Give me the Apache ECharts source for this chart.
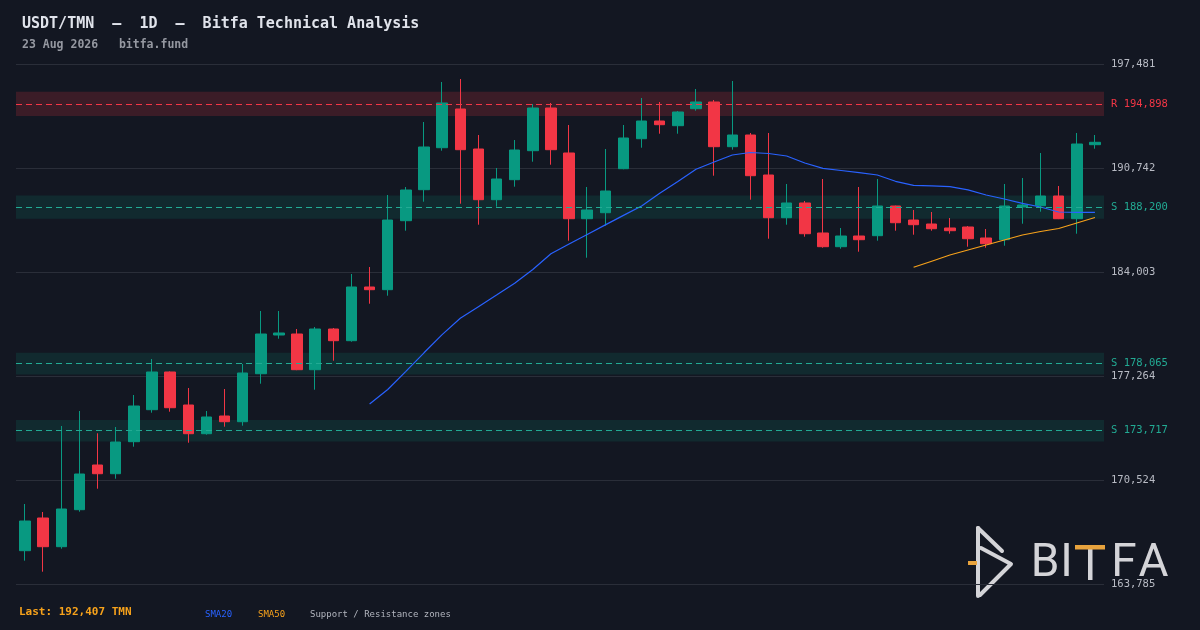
<!DOCTYPE html>
<html>
<head>
<meta charset="utf-8">
<script src="https://cdn.jsdelivr.net/npm/echarts@6/dist/echarts.min.js"></script>
<style>
html,body{margin:0;padding:0;background:#131722;}
#chart{width:1200px;height:630px;}
</style>
</head>
<body>
<div id="chart"></div>
<script>
const categories = [
 '2026-06-25','2026-06-26','2026-06-27','2026-06-28','2026-06-29','2026-06-30',
 '2026-07-01','2026-07-02','2026-07-03','2026-07-04','2026-07-05','2026-07-06','2026-07-07','2026-07-08','2026-07-09','2026-07-10',
 '2026-07-11','2026-07-12','2026-07-13','2026-07-14','2026-07-15','2026-07-16','2026-07-17','2026-07-18','2026-07-19','2026-07-20',
 '2026-07-21','2026-07-22','2026-07-23','2026-07-24','2026-07-25','2026-07-26','2026-07-27','2026-07-28','2026-07-29','2026-07-30','2026-07-31',
 '2026-08-01','2026-08-02','2026-08-03','2026-08-04','2026-08-05','2026-08-06','2026-08-07','2026-08-08','2026-08-09','2026-08-10',
 '2026-08-11','2026-08-12','2026-08-13','2026-08-14','2026-08-15','2026-08-16','2026-08-17','2026-08-18','2026-08-19','2026-08-20',
 '2026-08-21','2026-08-22','2026-08-23'
];
const opens = [165943,168062,166202,168600,171496,170932,173006,175080,177523,175384,
 173524,174671,174302,177412,179920,179985,177672,180309,179551,183031,
 182856,187327,189336,192057,194565,191973,188688,189984,191863,194630,
 191714,187456,187845,190696,192640,193787,193483,194584,195019,192122,
 192880,190288,187521,188474,186530,185642,186335,186355,188279,187372,
 187113,186854,186919,186206,186096,188215,188299,188927,187456,192252];
const closes = [167867,166202,168645,170913,170932,172987,175319,177523,175209,173524,
 174607,174302,177458,179985,180050,177672,180309,179551,183031,182856,
 187372,189316,192103,194954,191928,188688,190029,191908,194630,191928,
 187456,188020,189251,192686,193787,193548,194371,195019,192122,192880,
 190243,187521,188474,186484,185642,186335,186096,188279,187197,187068,
 186808,186679,186160,185836,188279,188344,188927,187456,192297,192407];
const lows = [165295,164582,166072,168470,169960,170608,172682,174885,174950,172941,
 173460,173978,174043,176764,179680,177640,176376,178255,179486,181948,
 182467,186679,188558,191863,188428,187068,188234,189530,191150,190956,
 186031,184929,187003,190660,192057,192964,192964,194455,190243,191928,
 188688,186160,187068,186290,185577,185512,185318,186031,186679,186420,
 186679,186484,185642,185577,185707,187132,187910,187430,186484,191992];
const highs = [168969,168451,174023,174995,173550,173959,176032,178365,177560,176486,
 174995,176421,178041,181475,181475,180309,180439,180374,183873,184327,
 188992,189511,193723,196315,196509,192880,190742,192556,194889,194954,
 193528,189511,191973,193528,195278,195019,194435,195861,195148,196379,
 193010,193010,189705,188603,190029,186854,189511,190029,188300,188020,
 187891,187502,186983,186789,189705,190094,191714,189575,193010,192880];
const sma20 = [null,null,null,null,null,null,null,null,null,null,
 null,null,null,null,null,null,null,null,null,175449,
 176389,177568,178767,179946,181002,181754,182506,183270,184165,185182,
 185811,186433,187055,187670,188279,189102,189867,190658,191131,191584,
 191746,191681,191519,191066,190722,190580,190437,190288,189880,189621,
 189588,189530,189329,188992,188733,188454,188215,187891,187871,187871];
const sma50 = [null,null,null,null,null,null,null,null,null,null,
 null,null,null,null,null,null,null,null,null,null,
 null,null,null,null,null,null,null,null,null,null,
 null,null,null,null,null,null,null,null,null,null,
 null,null,null,null,null,null,null,null,null,184307,
 184702,185104,185428,185752,186076,186400,186627,186821,187178,187534];
const zoneKinds = ['R','S','S','S'];
const zoneLevels = [194898,188200,178065,173717];
const zoneLow = [194118,187447,177353,173022];
const zoneHigh = [195678,188953,178777,174412];
const tickLabels = ['163,785','170,524','177,264','184,003','190,742','197,481'];
const axisMin = 163785, axisMax = 197481;
const lastPrice = '192,407';

const UP = '#089981', DOWN = '#F23645', ZONE_S = '#22ab94';
const MONO = '"DejaVu Sans Mono", monospace';
const interval = (axisMax - axisMin) / 5;

const candleData = opens.map((o, i) => [o, closes[i], lows[i], highs[i]]);

const markAreaData = zoneLevels.map((lv, i) => [
  { yAxis: zoneLow[i], itemStyle: { color: zoneKinds[i] === 'R' ? 'rgba(242,54,69,0.18)' : 'rgba(8,153,129,0.15)' } },
  { yAxis: zoneHigh[i] }
]);
const markLineData = zoneLevels.map((lv, i) => ({
  yAxis: lv,
  lineStyle: { color: zoneKinds[i] === 'R' ? DOWN : ZONE_S, type: [6, 4], width: 1 },
  label: {
    show: true, position: 'end', distance: 7,
    formatter: zoneKinds[i] + ' ' + lv.toLocaleString('en-US'),
    color: zoneKinds[i] === 'R' ? DOWN : ZONE_S,
    fontFamily: MONO, fontSize: 10.5
  }
}));

const LOGO = '#d4d4d8', LOGO_ACC = '#E8A33D';

const chart = echarts.init(document.getElementById('chart'), null, { renderer: 'canvas' });
chart.setOption({
  backgroundColor: '#131722',
  animation: false,
  grid: { left: 16, right: 96, top: 64, bottom: 46 },
  xAxis: {
    type: 'category', data: categories, boundaryGap: true,
    axisLine: { show: false }, axisTick: { show: false }, axisLabel: { show: false },
    splitLine: { show: false }
  },
  yAxis: {
    type: 'value', position: 'right', min: axisMin, max: axisMax, interval: interval,
    axisLine: { show: false }, axisTick: { show: false },
    axisLabel: {
      color: '#b8bbc4', fontFamily: MONO, fontSize: 10.5, margin: 7,
      formatter: v => tickLabels[Math.round((v - axisMin) / interval)] || ''
    },
    splitLine: { lineStyle: { color: '#2a2e39', width: 1 } }
  },
  series: [
    {
      type: 'candlestick', data: candleData, barWidth: 11,
      itemStyle: { color: UP, color0: DOWN, borderColor: UP, borderColor0: DOWN, borderWidth: 1 },
      markArea: { silent: true, data: markAreaData },
      markLine: { silent: true, symbol: 'none', data: markLineData }
    },
    {
      type: 'line', data: sma20, showSymbol: false, connectNulls: false,
      lineStyle: { color: '#2962FF', width: 1.2 }, z: 3
    },
    {
      type: 'line', data: sma50, showSymbol: false, connectNulls: false,
      lineStyle: { color: '#F7A21B', width: 1.2 }, z: 3
    }
  ],
  graphic: [
    { type: 'text', left: 22, top: 17, style: { text: 'USDT/TMN  –  1D  –  Bitfa Technical Analysis', fill: '#e0e3eb', font: 'bold 15px ' + MONO } },
    { type: 'text', left: 22, top: 39, style: { text: '23 Aug 2026   bitfa.fund', fill: '#9598a1', font: 'bold 11.5px ' + MONO } },
    { type: 'text', left: 19, top: 607, style: { text: 'Last: ' + lastPrice + ' TMN', fill: '#F7A21B', font: 'bold 11px ' + MONO } },
    { type: 'text', left: 205, top: 610, style: { text: 'SMA20', fill: '#2962FF', font: '9px ' + MONO } },
    { type: 'text', left: 258, top: 610, style: { text: 'SMA50', fill: '#F7A21B', font: '9px ' + MONO } },
    { type: 'text', left: 310, top: 610, style: { text: 'Support / Resistance zones', fill: '#b2b5be', font: '9px ' + MONO } },
    // logo
    { type: 'group', z: -1, children: [
      { type: 'polyline', shape: { points: [[978,528],[978,596]] }, style: { stroke: LOGO, lineWidth: 4, lineCap: 'round' } },
      { type: 'polyline', shape: { points: [[978,528],[1002,551]] }, style: { stroke: LOGO, lineWidth: 4, lineCap: 'round' } },
      { type: 'polyline', shape: { points: [[981,548],[1011,564],[980,595]] }, style: { stroke: LOGO, lineWidth: 4, lineCap: 'round', lineJoin: 'round' } },
      { type: 'rect', shape: { x: 968, y: 561, width: 9, height: 4 }, style: { fill: LOGO_ACC } },
      { type: 'text', x: 1045, y: 564, style: { text: 'B', fill: LOGO, font: '46px Roboto', textAlign: 'center', textVerticalAlign: 'middle' } },
      { type: 'text', x: 1066.5, y: 564, style: { text: 'I', fill: LOGO, font: '46px Roboto', textAlign: 'center', textVerticalAlign: 'middle' } },
      { type: 'rect', shape: { x: 1088, y: 547, width: 4.5, height: 33 }, style: { fill: LOGO } },
      { type: 'rect', shape: { x: 1075, y: 545, width: 30, height: 4.5 }, style: { fill: LOGO_ACC } },
      { type: 'text', x: 1124, y: 564, style: { text: 'F', fill: LOGO, font: '46px Roboto', textAlign: 'center', textVerticalAlign: 'middle' } },
      { type: 'text', x: 1153.5, y: 564, style: { text: 'A', fill: LOGO, font: '46px Roboto', textAlign: 'center', textVerticalAlign: 'middle' } }
    ] }
  ]
});
</script>
</body>
</html>
